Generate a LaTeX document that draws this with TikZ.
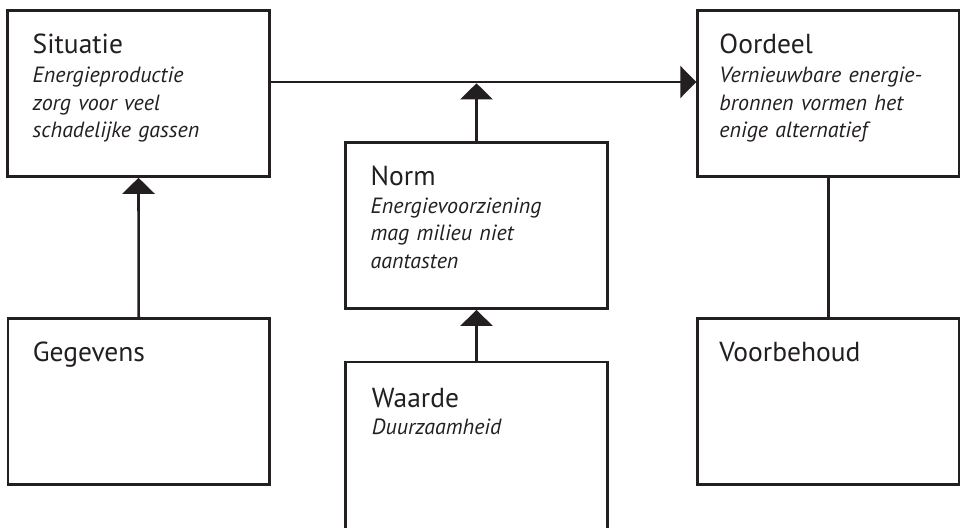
\documentclass[tikz,border=0pt]{standalone}
\usepackage{fontspec}
\setmainfont{PT Sans}
\usetikzlibrary{arrows.meta}
\definecolor{ink}{HTML}{231F20}
\begin{document}
\begin{tikzpicture}[x=1pt,y=-1pt,
  box/.style={draw=ink, line width=2.6pt, minimum width=261.5pt, minimum height=166pt, inner sep=0pt},
  title/.style={anchor=base west, inner sep=0pt, text=ink, font=\fontsize{27.5}{32}\selectfont},
  desc/.style={anchor=base west, inner sep=0pt, text=ink, align=left, text width=240pt,
    font=\fontsize{22}{27.5}\selectfont\itshape},
  link/.style={draw=ink, line width=2.6pt},
  arrow/.style={link, -{Triangle[width=32pt,length=16pt]}}]

\useasboundingbox (0,0) rectangle (965,527);

% the six boxes of the argument scheme
\node[box] (situatie)   at (138.5,93.5) {};
\node[box] (norm)       at (476.5,225.6) {};
\node[box] (oordeel)    at (828.3,93.3) {};
\node[box] (gegevens)   at (138.7,401.3) {};
\node[box] (voorbehoud) at (828.3,401.4) {};
\node[box, draw=none, outer sep=0pt] (waarde) at (476.5,444.8) {};
\draw[link] (waarde.south west) -- (waarde.north west) -- (waarde.north east) -- (waarde.south east);

% connectors
\coordinate (joint) at (476.5,82);
\draw[arrow] (situatie.east |- joint) -- (oordeel.west |- joint);
\draw[arrow] (norm.north) -- ([yshift=-1.3pt]joint);
\draw[arrow] (gegevens.north) -- (situatie.south);
\draw[arrow] (waarde.north) -- (norm.south);
\draw[link] (oordeel.south) -- (voorbehoud.north);

% texts
\node[title] (situatie-t) at ([shift={(26,44.5)}]situatie.north west) {Situatie};
\node[desc]  (situatie-d) at ([shift={(26,73.5)}]situatie.north west)
  {Energieproductie\\zorg voor veel\\schadelijke gassen};

\node[title] (norm-t) at ([shift={(26,44)}]norm.north west) {Norm};
\node[desc]  (norm-d) at ([shift={(26,72)}]norm.north west)
  {Energievoorziening\\mag milieu niet\\aantasten};

\node[title] (oordeel-t) at ([shift={(23,44.5)}]oordeel.north west) {Oordeel};
\node[desc]  (oordeel-d) at ([shift={(23,73.5)}]oordeel.north west)
  {Vernieuwbare energie-\\bronnen vormen het\\enige alternatief};

\node[title] (gegevens-t) at ([shift={(26,44.5)}]gegevens.north west) {Gegevens};
\node[title] (voorbehoud-t) at ([shift={(23,44.5)}]voorbehoud.north west) {Voorbehoud};

\node[title] (waarde-t) at ([shift={(26,46)}]waarde.north west) {Waarde};
\node[desc]  (waarde-d) at ([shift={(26,73)}]waarde.north west) {Duurzaamheid};
\end{tikzpicture}
\end{document}
